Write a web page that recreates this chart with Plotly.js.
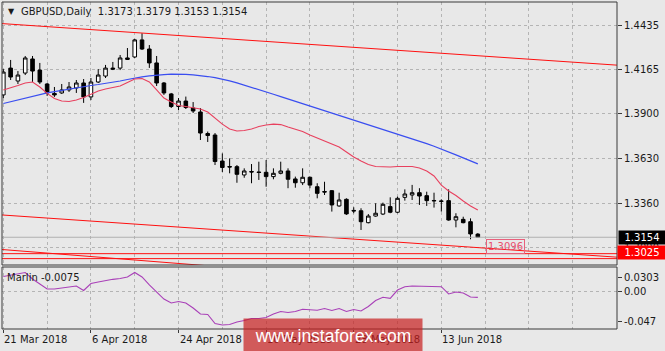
<!DOCTYPE html>
<html><head><meta charset="utf-8">
<script src="https://cdn.plot.ly/plotly-3.0.1.min.js"></script>
<style>html,body{margin:0;padding:0;background:#e8e8e8;}#chart{width:665px;height:351px;}</style>
</head><body><div id="chart"></div>
<script>
// ---- data ----
const dates = ['2018-03-21','2018-03-22','2018-03-23','2018-03-26','2018-03-27','2018-03-28','2018-03-29','2018-03-30',
'2018-04-02','2018-04-03','2018-04-04','2018-04-05','2018-04-06','2018-04-09','2018-04-10','2018-04-11','2018-04-12','2018-04-13',
'2018-04-16','2018-04-17','2018-04-18','2018-04-19','2018-04-20','2018-04-23','2018-04-24','2018-04-25','2018-04-26','2018-04-27','2018-04-30',
'2018-05-01','2018-05-02','2018-05-03','2018-05-04','2018-05-07','2018-05-08','2018-05-09','2018-05-10','2018-05-11',
'2018-05-14','2018-05-15','2018-05-16','2018-05-17','2018-05-18','2018-05-21','2018-05-22','2018-05-23','2018-05-24','2018-05-25',
'2018-05-28','2018-05-29','2018-05-30','2018-05-31','2018-06-01','2018-06-04','2018-06-05','2018-06-06','2018-06-07','2018-06-08',
'2018-06-11','2018-06-12','2018-06-13','2018-06-14','2018-06-15','2018-06-18','2018-06-19','2018-06-20'];
const openP = [1.4013,1.4175,1.4097,1.4145,1.4230,1.4163,1.4079,1.4022,1.4025,1.4043,1.4055,1.4085,1.4001,1.4091,1.4127,1.4175,1.4175,1.4227,
1.4242,1.4345,1.4290,1.4206,1.4085,1.4019,1.3943,1.3976,1.3934,1.3910,1.3780,1.3771,1.3614,1.3581,1.3580,1.3530,1.3551,1.3548,1.3546,1.3520,
1.3540,1.3554,1.3506,1.3483,1.3516,1.3459,1.3430,1.3435,1.3343,1.3383,1.3316,1.3314,1.3242,1.3282,1.3294,1.3339,1.3305,1.3395,1.3409,1.3423,
1.3405,1.3376,1.3373,1.3375,1.3258,1.3262,1.3248,1.3173];
const highP = [1.4169,1.4224,1.4157,1.4248,1.4248,1.4206,1.4085,1.4061,1.4079,1.4091,1.4103,1.4109,1.4115,1.4169,1.4194,1.4212,1.4254,1.4296,
1.4351,1.4385,1.4314,1.4248,1.4091,1.4025,1.3994,1.4003,1.3970,1.3934,1.3792,1.3783,1.3660,1.3630,1.3590,1.3570,1.3596,1.3610,1.3620,1.3570,
1.3610,1.3570,1.3520,1.3570,1.3520,1.3480,1.3489,1.3439,1.3423,1.3389,1.3335,1.3329,1.3294,1.3359,1.3363,1.3395,1.3399,1.3443,1.3470,1.3450,
1.3429,1.3423,1.3383,1.3443,1.3299,1.3278,1.3268,1.3179];
const lowP = [1.3994,1.4103,1.4079,1.4133,1.4091,1.4079,1.4007,1.4001,1.4019,1.4031,1.4025,1.3965,1.3982,1.4085,1.4115,1.4163,1.4163,1.4224,
1.4236,1.4284,1.4176,1.4067,1.4013,1.3934,1.3922,1.3928,1.3904,1.3741,1.3729,1.3590,1.3548,1.3540,1.3483,1.3513,1.3480,1.3500,1.3459,1.3504,
1.3534,1.3450,1.3453,1.3469,1.3450,1.3389,1.3409,1.3309,1.3338,1.3289,1.3299,1.3198,1.3238,1.3278,1.3288,1.3299,1.3299,1.3375,1.3379,1.3349,
1.3343,1.3333,1.3309,1.3254,1.3214,1.3238,1.3142,1.3153];
const closeP = [1.4151,1.4121,1.4133,1.4236,1.4157,1.4091,1.4025,1.4013,1.4043,1.4061,1.4085,1.4001,1.4091,1.4133,1.4175,1.4169,1.4236,1.4236,
1.4345,1.4290,1.4206,1.4085,1.4025,1.3943,1.3976,1.3937,1.3916,1.3783,1.3768,1.3611,1.3575,1.3578,1.3534,1.3554,1.3548,1.3545,1.3520,1.3540,
1.3554,1.3504,1.3483,1.3516,1.3469,1.3419,1.3427,1.3349,1.3379,1.3295,1.3313,1.3248,1.3282,1.3299,1.3353,1.3305,1.3389,1.3415,1.3423,1.3403,
1.3375,1.3374,1.3371,1.3258,1.3278,1.3242,1.3174,1.3154];
const maFast = [1.4043,1.4055,1.4070,1.4085,1.4091,1.4061,1.4022,1.3991,1.3976,1.3973,1.3982,1.3997,1.4019,1.4037,1.4049,1.4058,1.4067,1.4088,
1.4109,1.4112,1.4091,1.4043,1.3994,1.3970,1.3949,1.3943,1.3934,1.3928,1.3910,1.3874,1.3837,1.3807,1.3795,1.3798,1.3807,1.3822,1.3832,1.3837,
1.3834,1.3819,1.3804,1.3792,1.3771,1.3753,1.3735,1.3717,1.3699,1.3669,1.3638,1.3614,1.3593,1.3581,1.3578,1.3578,1.3581,1.3581,1.3581,1.3572,
1.3554,1.3524,1.3469,1.3433,1.3406,1.3373,1.3343,1.3319];
const maSlow = [1.3961,1.3972,1.3983,1.3994,1.4005,1.4015,1.4025,1.4033,1.4041,1.4049,1.4056,1.4063,1.4070,1.4076,1.4082,1.4088,1.4097,1.4106,
1.4115,1.4122,1.4128,1.4133,1.4136,1.4138,1.4139,1.4137,1.4134,1.4130,1.4124,1.4117,1.4109,1.4098,1.4086,1.4073,1.4059,1.4045,1.4031,1.4017,
1.4003,1.3989,1.3975,1.3961,1.3947,1.3933,1.3918,1.3904,1.3890,1.3876,1.3862,1.3848,1.3834,1.3820,1.3806,1.3791,1.3777,1.3763,1.3749,1.3735,
1.3719,1.3703,1.3687,1.3669,1.3651,1.3633,1.3615,1.3597];
const marlin = [0.0193,0.0213,0.0225,0.0245,0.0161,0.0097,0.0032,0.0032,0.0045,0.0058,0.0071,0.0013,0.0103,0.0122,0.0142,0.0157,0.0168,0.0187,
0.0245,0.0187,0.0084,-0.0006,-0.0097,-0.0148,-0.0129,-0.0148,-0.0213,-0.0290,-0.0296,-0.0412,-0.0432,-0.0425,-0.0393,-0.0374,-0.0348,-0.0348,
-0.0335,-0.0290,-0.0258,-0.0271,-0.0258,-0.0229,-0.0238,-0.0242,-0.0219,-0.0245,-0.0219,-0.0258,-0.0232,-0.0251,-0.0193,-0.0116,-0.0075,-0.0088,
0.0019,0.0062,0.0071,0.0071,0.0064,0.0062,0.0062,-0.0032,-0.0006,-0.0019,-0.0071,-0.0075];
// drawn trend / level lines: [bar index start, end] and prices
const trendX = [-1, 85];
const upperTrend = [1.4446, 1.4190];
const lowerTrend = [1.3291, 1.3031];
const level1 = [1.3055, 1.3055];
const level2 = [1.3025, 1.3025];
const lowTrendX = [-1, 30];
const lowTrend = [1.3083, 1.2975];
const labelLevel = 1.3096;
const priceTicks = [1.4435, 1.4165, 1.3900, 1.3630, 1.3360, 1.3090];
const marlinMax = 0.0303, marlinMin = -0.047;
const tickDates = ['2018-03-21','2018-04-06','2018-04-24','2018-05-10','2018-05-28','2018-06-13'];
const tickLabels = ['21 Mar 2018','6 Apr 2018','24 Apr 2018','10 May 2018','28 May 2018','13 Jun 2018'];

// ---- chart ----
const idx = dates.map((d, i) => i);
const last = dates.length - 1;
const tickIdx = tickDates.map(d => dates.indexOf(d));
const F = 'DejaVu Sans';
const TXT = '#1a1a1a';
const GRID = '#b4b4b4';

const traces = [
  {x: trendX, y: upperTrend, type: 'scatter', mode: 'lines', line: {color: '#ff1010', width: 1}, xaxis: 'x', yaxis: 'y'},
  {x: trendX, y: lowerTrend, type: 'scatter', mode: 'lines', line: {color: '#ff1010', width: 1}, xaxis: 'x', yaxis: 'y'},
  {x: trendX, y: level1, type: 'scatter', mode: 'lines', line: {color: '#ff1010', width: 1}, xaxis: 'x', yaxis: 'y'},
  {x: trendX, y: level2, type: 'scatter', mode: 'lines', line: {color: '#ff1010', width: 1}, xaxis: 'x', yaxis: 'y'},
  {x: lowTrendX, y: lowTrend, type: 'scatter', mode: 'lines', line: {color: '#ff1010', width: 1}, xaxis: 'x', yaxis: 'y'},
  {x: trendX, y: [closeP[last], closeP[last]], type: 'scatter', mode: 'lines', line: {color: '#b0b0b0', width: 1}, xaxis: 'x', yaxis: 'y'},
  {x: idx, open: openP, high: highP, low: lowP, close: closeP, type: 'candlestick', xaxis: 'x', yaxis: 'y',
   whiskerwidth: 0,
   increasing: {line: {color: '#000000', width: 1}, fillcolor: '#ffffff'},
   decreasing: {line: {color: '#000000', width: 1}, fillcolor: '#000000'}},
  {x: idx, y: maSlow, type: 'scatter', mode: 'lines', line: {color: '#3a4ef0', width: 1.2}, xaxis: 'x', yaxis: 'y'},
  {x: idx, y: maFast, type: 'scatter', mode: 'lines', line: {color: '#e8405e', width: 1.1}, xaxis: 'x', yaxis: 'y'},
  {x: idx, y: marlin, type: 'scatter', mode: 'lines', line: {color: '#a940b8', width: 1.1}, xaxis: 'x2', yaxis: 'y2'}
];

// geometry
const PL = 2, PR = 617, PT = 2, PB = 329;
const mainBottomPx = 265, indTopPx = 267;
const H = PB - PT;
const mainDomain = [(PB - mainBottomPx) / H, 1];
const indDomain = [0, (PB - indTopPx) / H];
const pxPerBar = 7.30, firstBarPx = 3.33;
const xRange = [(PL - firstBarPx) / pxPerBar, (PR - firstBarPx) / pxPerBar];
const pricePerPx = 1 / 1657;
const yTopPrice = priceTicks[0] + (25 - PT) * pricePerPx;
const yBotPrice = priceTicks[0] - (mainBottomPx - 25) * pricePerPx;
const mPx = 776;
const y2Range = [marlinMax - (PB - 268) / mPx, marlinMax + (268 - indTopPx) / mPx];

const annotations = [];
tickIdx.forEach((ti, k) => annotations.push({
  x: ti, xref: 'x2', y: -10, yref: 'paper', yshift: 0, text: tickLabels[k], showarrow: false,
  xanchor: 'left', yanchor: 'middle', font: {family: F, size: 10, color: TXT}, xshift: -1
}));
// fix y for x labels in pixels
annotations.forEach(a => { a.y = (PB - 339) / H; });
annotations.push({x: (6 - PL) / (PR - PL), xref: 'paper', y: (PT - 11.5) / H + 1, yref: 'paper',
  text: '▼', showarrow: false, xanchor: 'left', yanchor: 'middle', font: {family: F, size: 8, color: TXT}});
annotations.push({x: (19 - PL) / (PR - PL), xref: 'paper', y: (PT - 12) / H + 1, yref: 'paper',
  text: 'GBPUSD,Daily  ' + [openP[last], highP[last], lowP[last], closeP[last]].map(v => v.toFixed(4)).join(' '),
  showarrow: false, xanchor: 'left', yanchor: 'middle', font: {family: F, size: 10, color: TXT}});
annotations.push({x: (5 - PL) / (PR - PL), xref: 'paper', y: (PB - 277.5) / (PB - indTopPx), yref: 'y2 domain',
  text: 'Marlin ' + marlin[last].toFixed(4), showarrow: false, xanchor: 'left', yanchor: 'middle',
  font: {family: F, size: 10, color: TXT}});
annotations.push({x: last + 1.15, xref: 'x', y: labelLevel, yref: 'y', text: labelLevel.toFixed(4), showarrow: false,
  xanchor: 'left', yanchor: 'middle', font: {family: F, size: 10, color: '#e8506e'},
  bordercolor: '#e8607c', borderwidth: 1, borderpad: 1});
annotations.push({x: 1.0015, xref: 'paper', y: closeP[last], yref: 'y', text: closeP[last].toFixed(4), showarrow: false,
  xanchor: 'left', yanchor: 'middle', font: {family: F, size: 10, color: '#ffffff'}, bgcolor: '#000000', borderpad: 1, width: 44});
annotations.push({x: 1.0, xref: 'paper', y: level2[0], yref: 'y', yshift: 6.5, text: level2[0].toFixed(4), showarrow: false,
  xanchor: 'left', yanchor: 'middle', font: {family: F, size: 10, color: '#ffffff'}, bgcolor: '#ff0000', borderpad: 1, width: 46});
annotations.push({x: (333 - PL) / (PR - PL), xref: 'paper', y: (PB - 336) / H, yref: 'paper',
  text: 'www.instaforex.com', showarrow: false, xanchor: 'center', yanchor: 'middle',
  font: {family: 'Liberation Sans', size: 17.5, color: '#ffffff'}, bgcolor: 'rgba(200,30,30,0.70)', width: 176, height: 32});

const shapes = [
  {type: 'rect', xref: 'paper', yref: 'paper', x0: 0, x1: 1, y0: mainDomain[0], y1: 1, line: {color: '#3a3a3a', width: 1}},
  {type: 'rect', xref: 'paper', yref: 'paper', x0: 0, x1: 1, y0: 0, y1: indDomain[1], line: {color: '#3a3a3a', width: 1}},
  {type: 'line', xref: 'paper', yref: 'y2', x0: 0, x1: 1, y0: 0, y1: 0, line: {color: GRID, width: 1, dash: '3px,3px'}, layer: 'below'}
];

const layout = {
  width: 665, height: 351,
  margin: {l: PL, r: 665 - PR, t: PT, b: 351 - PB, pad: 0},
  paper_bgcolor: '#e8e8e8', plot_bgcolor: '#e8e8e8',
  showlegend: false,
  font: {family: F, size: 10, color: TXT},
  xaxis: {domain: [0, 1], anchor: 'y', range: xRange, tick0: 0, dtick: 6, showticklabels: false, ticks: '',
    showgrid: true, gridcolor: GRID, griddash: '3px,3px', gridwidth: 1, zeroline: false, showline: false,
    rangeslider: {visible: false}, fixedrange: true},
  xaxis2: {domain: [0, 1], anchor: 'y2', range: xRange, matches: 'x', tickmode: 'array', tickvals: tickIdx,
    ticktext: tickIdx.map(() => ''), ticks: 'outside', ticklen: 3, tickcolor: '#3a3a3a',
    showgrid: true, gridcolor: GRID, griddash: '3px,3px', gridwidth: 1,
    minor: {tick0: 0, dtick: 6, showgrid: true, gridcolor: GRID, griddash: '3px,3px', gridwidth: 1, ticks: ''},
    zeroline: false, showline: false, rangeslider: {visible: false}},
  yaxis: {domain: mainDomain, anchor: 'x', side: 'right', range: [yBotPrice, yTopPrice], tickmode: 'array',
    tickvals: priceTicks, ticktext: priceTicks.map(v => v.toFixed(4)), ticks: 'outside', ticklen: 4, tickcolor: '#3a3a3a',
    showgrid: true, gridcolor: GRID, griddash: '3px,3px', gridwidth: 1, zeroline: false, showline: false,
    tickfont: {family: F, size: 10, color: TXT}},
  yaxis2: {domain: indDomain, anchor: 'x2', side: 'right', range: y2Range, tickmode: 'array',
    tickvals: [marlinMax - 9 / mPx, 0, marlinMin + 6 / mPx], ticktext: [String(marlinMax), '0.00', String(marlinMin)],
    ticks: 'outside', ticklen: 4, tickcolor: '#3a3a3a', showgrid: false, zeroline: false, showline: false,
    tickfont: {family: F, size: 10, color: TXT}},
  annotations: annotations,
  shapes: shapes
};

Plotly.newPlot('chart', traces, layout, {staticPlot: true, displayModeBar: false});
</script>
</body></html>
